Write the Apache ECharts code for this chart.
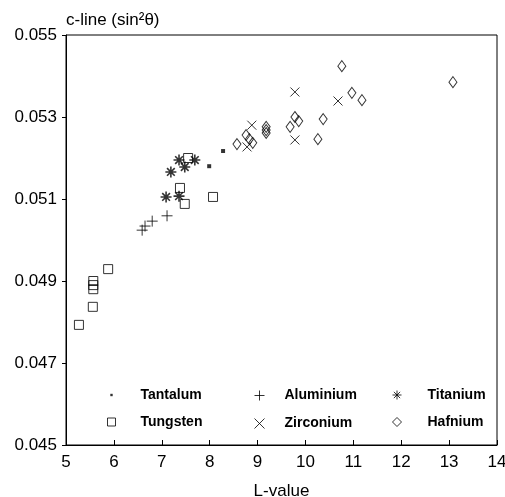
<!DOCTYPE html>
<html>
<head>
<meta charset="utf-8">
<script src="https://cdn.jsdelivr.net/npm/echarts@6/dist/echarts.min.js"></script>
<style>
  html, body { margin: 0; padding: 0; background: #fff; }
  #chart { width: 505px; height: 497px; }
</style>
</head>
<body>
<div id="chart"></div>
<script>
// values: [L-value, c-line sin^2 theta]
const tantalum = [[7.99, 0.05180], [8.28, 0.05217]];
const tungsten = [
  [5.27, 0.04793], [5.56, 0.04837], [5.57, 0.04880], [5.57, 0.04890], [5.57, 0.04900],
  [5.88, 0.04929], [7.38, 0.05127], [7.48, 0.05088], [7.55, 0.05200], [8.07, 0.05105]
];
const aluminium = [[6.59, 0.05024], [6.65, 0.05034], [6.80, 0.05046], [7.11, 0.05059]];
const zirconium = [[8.78, 0.05227], [8.88, 0.05280], [9.78, 0.05361], [9.78, 0.05244], [10.68, 0.05339]];
const titanium = [
  [7.09, 0.05105], [7.36, 0.05107], [7.19, 0.05166],
  [7.36, 0.05195], [7.48, 0.05178], [7.69, 0.05195]
];
const hafnium = [
  [8.57, 0.05234], [8.76, 0.05256], [8.83, 0.05246], [8.90, 0.05237],
  [9.18, 0.05276], [9.18, 0.05268], [9.18, 0.05261],
  [9.68, 0.05276], [9.78, 0.05300], [9.86, 0.05290],
  [10.26, 0.05246], [10.37, 0.05295], [10.76, 0.05424],
  [10.97, 0.05359], [11.18, 0.05341], [13.08, 0.05385]
];
const xTicks = [5, 6, 7, 8, 9, 10, 11, 12, 13, 14];
const yTicks = [0.045, 0.047, 0.049, 0.051, 0.053, 0.055];

// marker shapes
const PLUS = 'path://M5,0L5,10M0,5L10,5';
const CROSS = 'path://M0,0L10,10M10,0L0,10';
const STAR = 'path://M5,0L5,10M0,5L10,5M1.5,1.5L8.5,8.5M8.5,1.5L1.5,8.5';
const DOT = 'path://M0,0M10,10M3.5,3.5h3v3h-3z';

const font = 'Liberation Sans, Arial, sans-serif';
const outline = { color: 'none', borderColor: '#000', borderWidth: 1 };

var chart = echarts.init(document.getElementById('chart'));

const legendText = (pad) => ({
  fontFamily: font, fontSize: 14, fontWeight: 'bold', color: '#000',
  padding: [0, 0, 0, pad]
});

chart.setOption({
  animation: false,
  title: {
    text: 'c-line (sin²θ)',
    left: 61, top: 7,
    textStyle: { fontFamily: font, fontSize: 17, fontWeight: 'normal', color: '#000' }
  },
  grid: {
    left: 66, right: 8, top: 35, bottom: 52,
    outerBoundsMode: 'none',
    show: true, borderColor: '#000', borderWidth: 1
  },
  legend: [
    { orient: 'vertical', left: 105, top: 388, padding: 0, itemGap: 13, itemWidth: 8, itemHeight: 8,
      itemStyle: { borderWidth: 1 },
      textStyle: legendText(20),
      data: [{ name: 'Tantalum', icon: DOT }, { name: 'Tungsten', icon: 'rect' }] },
    { orient: 'vertical', left: 252, top: 388, padding: 0, itemGap: 13, itemWidth: 10, itemHeight: 10,
      itemStyle: { borderWidth: 1 },
      textStyle: legendText(15),
      data: [{ name: 'Aluminium', icon: PLUS }, { name: 'Zirconium', icon: CROSS }] },
    { orient: 'vertical', left: 390, top: 388, padding: 0, itemGap: 13, itemWidth: 9, itemHeight: 9,
      itemStyle: { borderWidth: 1 },
      textStyle: legendText(21),
      data: [{ name: 'Titanium', icon: STAR }, { name: 'Hafnium', icon: 'diamond' }] }
  ],
  xAxis: {
    type: 'value',
    min: xTicks[0], max: xTicks[xTicks.length - 1],
    name: 'L-value', nameLocation: 'middle', nameGap: 38,
    nameTextStyle: { fontFamily: font, fontSize: 17, color: '#000' },
    axisLine: { lineStyle: { color: '#000', width: 1 } },
    axisTick: { inside: true, length: 5, customValues: xTicks, lineStyle: { color: '#000' } },
    axisLabel: { margin: 9, fontFamily: font, fontSize: 17, color: '#000', customValues: xTicks },
    splitLine: { show: false }
  },
  yAxis: {
    type: 'value',
    min: yTicks[0], max: yTicks[yTicks.length - 1],
    axisLine: { show: true, lineStyle: { color: '#000', width: 1 } },
    axisTick: { show: true, length: 4, customValues: yTicks, lineStyle: { color: '#000' } },
    axisLabel: {
      margin: 9, fontFamily: font, fontSize: 17, color: '#000',
      customValues: yTicks,
      formatter: (v) => v.toFixed(3)
    },
    splitLine: { show: false }
  },
  series: [
    { name: 'Tantalum', type: 'scatter', data: tantalum, symbol: 'rect', symbolSize: 4,
      itemStyle: { color: '#000' } },
    { name: 'Tungsten', type: 'scatter', data: tungsten, symbol: 'rect', symbolSize: 9,
      itemStyle: outline },
    { name: 'Aluminium', type: 'scatter', data: aluminium, symbol: PLUS, symbolSize: 11,
      itemStyle: outline },
    { name: 'Zirconium', type: 'scatter', data: zirconium, symbol: CROSS, symbolSize: 9,
      itemStyle: outline },
    { name: 'Titanium', type: 'scatter', data: titanium, symbol: STAR, symbolSize: 11,
      itemStyle: { color: 'none', borderColor: '#000', borderWidth: 1.6 } },
    { name: 'Hafnium', type: 'scatter', data: hafnium, symbol: 'diamond', symbolSize: [8, 11],
      itemStyle: outline }
  ]
});
</script>
</body>
</html>
